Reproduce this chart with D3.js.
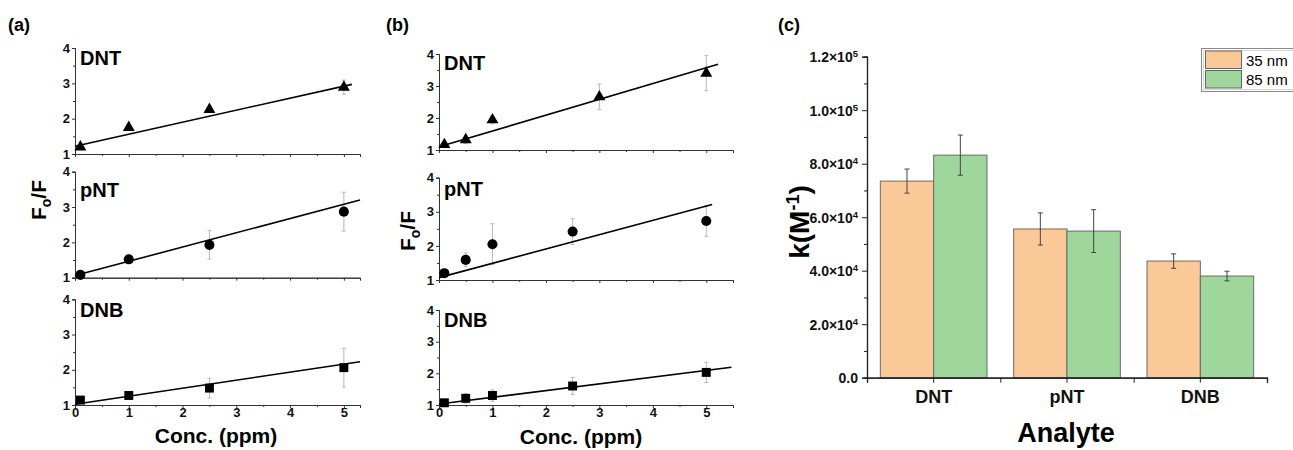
<!DOCTYPE html>
<html><head><meta charset="utf-8">
<script src="https://cdn.jsdelivr.net/npm/d3@7"></script>
<style>body{margin:0;background:#fff} text{font-family:"Liberation Sans",Arial,sans-serif}</style>
</head><body><svg id="chart" width="1293" height="450"></svg>
<script>
// ---------- data ----------
const analytes = ["DNT", "pNT", "DNB"];
const concA = [0.1, 1, 2.5, 5];
const concB = [0.1, 0.5, 1, 2.5, 5];
const concBDNT = [0.1, 0.5, 1, 3, 5];

const aDNT = [1.2, 1.75, 2.26, 2.89];
const aDNTerr = [0.03, 0.03, 0.05, 0.2];
const aPNT = [1.08, 1.52, 1.93, 2.87];
const aPNTerr = [0.03, 0.05, 0.4, 0.55];
const aDNB = [1.14, 1.27, 1.48, 2.06];
const aDNBerr = [0.03, 0.05, 0.28, 0.55];

const bDNT = [1.17, 1.32, 1.94, 2.66, 3.4];
const bDNTerr = [0.05, 0.12, 0.12, 0.4, 0.55];
const bPNT = [1.2, 1.59, 2.05, 2.42, 2.73];
const bPNTerr = [0.05, 0.2, 0.6, 0.38, 0.45];
const bDNB = [1.07, 1.21, 1.3, 1.6, 2.03];
const bDNBerr = [0.04, 0.15, 0.18, 0.27, 0.32];

// linear fits: [intercept, slope, x end]
const fitA = [[1.22, 0.34, 5.15], [1.06, 0.404, 5.3], [1.02, 0.228, 5.3]];
const fitB = [[1.1, 0.494, 5.22], [1.07, 0.42, 5.11], [1.03, 0.212, 5.47]];

const yTicks = [1, 2, 3, 4];
const yMinor = [1.5, 2.5, 3.5];
const xTicks = [0, 1, 2, 3, 4, 5];
const xMinor = [0.5, 1.5, 2.5, 3.5, 4.5];

const k35 = [7.35e4, 5.56e4, 4.36e4];
const k35err = [0.45e4, 0.6e4, 0.27e4];
const k85 = [8.32e4, 5.48e4, 3.8e4];
const k85err = [0.75e4, 0.8e4, 0.18e4];
const kTicks = [0, 2e4, 4e4, 6e4, 8e4, 1e5, 1.2e5];
const kMinor = [1e4, 3e4, 5e4, 7e4, 9e4, 1.1e5];
const seriesNames = ["35 nm", "85 nm"];
const seriesColors = ["#FBC898", "#9ED69B"];

// ---------- drawing ----------
const svg = d3.select("#chart");
const FONT = '"Liberation Sans", Arial, sans-serif';

function panelLabel(x, y, t) {
  svg.append("text").attr("x", x).attr("y", y).attr("font-size", 18)
    .attr("font-weight", "bold").text(t);
}

function subplot(opt) {
  const x = d3.scaleLinear().domain([0, opt.xMax]).range(opt.xRange);
  const y = d3.scaleLinear().domain([1, 4]).range(opt.yRange);
  const g = svg.append("g");
  const y0 = opt.yRange[0];
  g.append("g").attr("transform", `translate(${opt.xRange[0]},0)`)
    .call(d3.axisLeft(y).tickValues(yTicks).tickSize(3).tickPadding(2).tickFormat(d3.format("d")));
  g.append("g").attr("transform", `translate(${opt.xRange[0]},0)`)
    .call(d3.axisLeft(y).tickValues(yMinor).tickSize(2).tickFormat(""));
  g.append("g").attr("transform", `translate(0,${y0})`)
    .call(d3.axisBottom(x).tickValues(xTicks).tickSize(3).tickPadding(0)
      .tickFormat(opt.labels ? d3.format("d") : ""));
  g.append("g").attr("transform", `translate(0,${y0})`)
    .call(d3.axisBottom(x).tickValues(xMinor).tickSize(2).tickFormat(""));
  g.selectAll(".domain").attr("stroke", "#333").attr("stroke-width", 1);
  g.selectAll(".tick line").attr("stroke", "#333");
  g.selectAll(".tick text").attr("font-family", FONT).attr("font-weight", "bold")
    .attr("font-size", 13).attr("fill", "#111");
  g.append("text").attr("x", opt.xRange[0] + 5).attr("y", opt.labelY)
    .attr("font-size", 20).attr("font-weight", "bold").text(opt.name);
  const pts = opt.xs.map((c, i) => ({c, v: opt.vals[i], e: opt.errs[i]}));
  const eb = g.append("g").attr("stroke", "#b8b8b8").attr("stroke-width", 1);
  pts.forEach(p => {
    eb.append("line").attr("x1", x(p.c)).attr("x2", x(p.c)).attr("y1", y(p.v - p.e)).attr("y2", y(p.v + p.e));
    [p.v - p.e, p.v + p.e].forEach(v => eb.append("line").attr("x1", x(p.c) - 2).attr("x2", x(p.c) + 2)
      .attr("y1", y(v)).attr("y2", y(v)));
  });
  const [b0, b1, xe] = opt.fit;
  g.append("path").attr("fill", "none").attr("stroke", "#000").attr("stroke-width", 1.6)
    .attr("d", d3.line().x(d => x(d)).y(d => y(b0 + b1 * d))([0, xe]));
  g.selectAll(".m").data(pts).join("path")
    .attr("transform", d => `translate(${x(d.c)},${y(d.v)})`)
    .attr("d", d3.symbol().type(opt.sym).size(opt.symSize)).attr("fill", "#000");
}

function yLabelF(x, y) {
  const t = svg.append("text").attr("transform", `translate(${x},${y}) rotate(-90)`)
    .attr("text-anchor", "middle").attr("font-size", 21).attr("font-weight", "bold");
  t.append("tspan").text("F");
  t.append("tspan").attr("font-size", 14).attr("dy", 5).text("o");
  t.append("tspan").attr("dy", -5).text("/F");
}

const syms = [d3.symbolTriangle, d3.symbolCircle, d3.symbolSquare];
const symSizes = [62, 80, 80];

// Panel (a)
panelLabel(8, 31, "(a)");
const aVals = [aDNT, aPNT, aDNB], aErrs = [aDNTerr, aPNTerr, aDNBerr];
const aY = [[154, 48], [277.7, 171.7], [405, 299.3]];
const aLabY = [65, 197, 317];
analytes.forEach((n, i) => subplot({
  name: n, xs: concA, vals: aVals[i], errs: aErrs[i], fit: fitA[i],
  xMax: 5.3, xRange: [75, 360], yRange: aY[i], labelY: aLabY[i], labels: i === 2,
  sym: syms[i], symSize: symSizes[i]
}));
yLabelF(46, 200);
svg.append("text").attr("x", 216).attr("y", 443).attr("text-anchor", "middle")
  .attr("font-size", 21).attr("font-weight", "bold").text("Conc. (ppm)");

// Panel (b)
panelLabel(386, 31, "(b)");
const bVals = [bDNT, bPNT, bDNB], bErrs = [bDNTerr, bPNTerr, bDNBerr];
const bXs = [concBDNT, concB, concB];
const bY = [[150, 54], [280, 177.7], [405, 310]];
const bLabY = [70, 196, 327];
analytes.forEach((n, i) => subplot({
  name: n, xs: bXs[i], vals: bVals[i], errs: bErrs[i], fit: fitB[i],
  xMax: 5.5, xRange: [439, 733], yRange: bY[i], labelY: bLabY[i], labels: i === 2,
  sym: syms[i], symSize: symSizes[i]
}));
yLabelF(415, 231);
svg.append("text").attr("x", 581).attr("y", 444).attr("text-anchor", "middle")
  .attr("font-size", 21).attr("font-weight", "bold").text("Conc. (ppm)");

// Panel (c)
panelLabel(778, 31, "(c)");
const kx = d3.scaleBand().domain(analytes).range([867, 1267]).paddingInner(0.2).paddingOuter(0.1);
const ky = d3.scaleLinear().domain([0, 1.2e5]).range([377.7, 56.7]);
const sub = d3.scaleBand().domain(seriesNames).range([0, kx.bandwidth()]);
const gc = svg.append("g");
const kVals = [k35, k85], kErrs = [k35err, k85err];
seriesNames.forEach((s, si) => {
  analytes.forEach((a, ai) => {
    const v = kVals[si][ai], e = kErrs[si][ai];
    const bx = kx(a) + sub(s);
    gc.append("rect").attr("x", bx).attr("y", ky(v)).attr("width", sub.bandwidth())
      .attr("height", ky(0) - ky(v)).attr("fill", seriesColors[si])
      .attr("stroke", "#6a6a6a").attr("stroke-width", 1);
    const cx = bx + sub.bandwidth() / 2;
    const eg = gc.append("g").attr("stroke", "#444").attr("stroke-width", 1);
    eg.append("line").attr("x1", cx).attr("x2", cx).attr("y1", ky(v - e)).attr("y2", ky(v + e));
    [v - e, v + e].forEach(w => eg.append("line").attr("x1", cx - 2.5).attr("x2", cx + 2.5)
      .attr("y1", ky(w)).attr("y2", ky(w)));
  });
});
const ya = gc.append("g").attr("transform", "translate(867,0)")
  .call(d3.axisLeft(ky).tickValues(kTicks).tickSize(5).tickPadding(3).tickFormat(""));
ya.selectAll(".tick").each(function(d) {
  const t = d3.select(this).append("text").attr("x", -9).attr("dy", "0.35em")
    .attr("text-anchor", "end").attr("font-size", 14).attr("font-weight", "bold")
    .attr("font-family", FONT).attr("fill", "#111");
  if (d === 0) { t.text("0.0"); return; }
  const ex = Math.floor(Math.log10(d));
  const m = d / Math.pow(10, ex);
  t.append("tspan").text(m.toFixed(1) + "\u00d710");
  t.append("tspan").attr("font-size", 9.5).attr("dy", -5).text(String(ex));
});
gc.append("g").attr("transform", "translate(867,0)")
  .call(d3.axisLeft(ky).tickValues(kMinor).tickSize(3).tickFormat(""));
const xaC = gc.append("g").attr("transform", `translate(0,${ky(0)})`)
  .call(d3.axisBottom(kx).tickSize(5).tickPadding(8));
xaC.selectAll(".tick text").attr("font-size", 18).attr("font-weight", "bold")
  .attr("font-family", FONT).attr("fill", "#111");
const bounds = [analytes[0], analytes[1]].map(a => kx(a) + kx.bandwidth() + kx.step() * 0.1);
gc.append("g").attr("transform", `translate(0,${ky(0)})`)
  .call(d3.axisBottom(d3.scaleLinear().domain([867, 1267]).range([867, 1267]))
    .tickValues(bounds).tickSize(5).tickFormat(""));
gc.selectAll(".domain").attr("stroke", "#222").attr("stroke-width", 1.2);
gc.selectAll(".tick line").attr("stroke", "#222");
const kt = svg.append("text").attr("transform", "translate(809,222) rotate(-90)")
  .attr("text-anchor", "middle").attr("font-size", 28).attr("font-weight", "bold");
kt.append("tspan").text("k(M");
kt.append("tspan").attr("font-size", 18).attr("dy", -10).text("-1");
kt.append("tspan").attr("dy", 10).text(")");
svg.append("text").attr("x", 1066).attr("y", 442).attr("text-anchor", "middle")
  .attr("font-size", 27).attr("font-weight", "bold").text("Analyte");
const lg = svg.append("g");
lg.append("rect").attr("x", 1201.5).attr("y", 48.5).attr("width", 110).attr("height", 43)
  .attr("fill", "#fff").attr("stroke", "#888").attr("stroke-width", 1);
lg.append("rect").attr("x", 1203.5).attr("y", 50.5).attr("width", 110).attr("height", 39)
  .attr("fill", "none").attr("stroke", "#ccc").attr("stroke-width", 0.8);
seriesNames.forEach((s, i) => {
  lg.append("rect").attr("x", 1205.5).attr("y", 51 + i * 19.5).attr("width", 36).attr("height", 17.5)
    .attr("fill", seriesColors[i]).attr("stroke", "#666").attr("stroke-width", 1);
  lg.append("text").attr("x", 1246).attr("y", 65.5 + i * 19.5).attr("font-size", 15).text(s);
});
</script></body></html>
